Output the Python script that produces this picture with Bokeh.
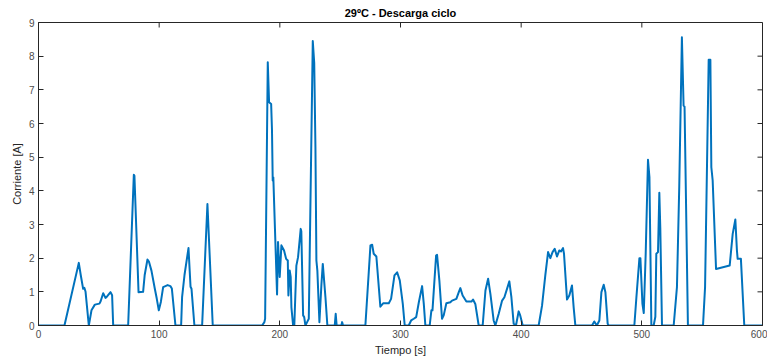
import math
from bokeh.plotting import figure
from bokeh.models import FixedTicker, Range1d
from bokeh.embed import file_html
from bokeh.resources import INLINE

# Time [s]
tiempo = [0, 21.5, 33.4, 35, 37, 38, 39, 41.7, 43.9, 46.7, 50.5, 51.5, 53.6, 55.5, 57, 59.7, 61, 61.9,
          74.3, 79, 79.5, 82.9, 86.7, 88, 90.3, 91.5, 93.6, 96.4, 98, 99.7, 101.4, 103.3, 105.2, 107,
          109.3, 110.5, 113.5, 118.2, 119, 121, 124.3, 126, 126.8, 129.2, 135.6, 140, 144.4, 185.3,
          187.2, 187.8, 190, 191.1, 192.8, 193.5, 194.1, 194.6, 197.7, 198.5, 199.9, 201.3, 203.5,
          205.2, 206.6, 207.1, 208.2, 209, 209.6, 211, 212, 213.7, 215.1, 217.3, 217.8, 219.3, 220.2,
          221.2, 222.6, 224, 227.3, 228.5, 229.5, 230.3, 231.1, 232.8, 234.5, 235.6, 237.8, 239.4,
          245.5, 246.3, 247.1, 251, 251.6, 252.4, 270.9, 275.1, 276.5, 277.8, 280, 283.3, 285.6,
          290.3, 292.2, 295, 297.2, 299.4, 301.9, 303.5, 306.8, 308.8, 311, 313, 315.2, 317.9, 319.3,
          320.6, 324.2, 325.6, 326.5, 329.5, 330.3, 332.2, 334.4, 335.8, 338, 341.3, 342.7, 346.3,
          348.3, 349.6, 351.5, 354.6, 358.8, 360.1, 362, 364.8, 368.1, 370.4, 372.6, 374.5, 377.2,
          378.6, 381.4, 384.2, 386.1, 390.2, 391.9, 393.8, 395.7, 397.9, 399.2, 401.3, 414.5, 417.3,
          420, 422.3, 424.2, 426, 427.8, 429.7, 431.6, 433, 434.7, 435.5, 438, 439.9, 442.1, 443.5,
          444.9, 458.7, 460.6, 462.7, 464.8, 466.5, 468.4, 469.8, 471.7, 472.5, 493.8, 495.5, 498,
          498.8, 500.5, 501.6, 503.2, 505.1, 506.3, 507.9, 509.8, 511.2, 512, 513.4, 514.5, 515.3,
          516.7, 526.4, 529.1, 531, 533.2, 534.6, 535.4, 538.2, 550.7, 552.4, 555.4, 556.8, 557.6,
          558.7, 561.5, 572.8, 575.3, 577.5, 578.8, 579.4, 582.1, 584.9, 600]

# Current [A]
corriente = [0, 0, 1.86, 1.5, 1.09, 1.12, 1.0, 0, 0.45, 0.62, 0.65, 0.72, 0.96, 0.82, 0.87, 0.99, 0.9, 0,
             0, 4.48, 4.45, 0.99, 1.0, 1.5, 1.96, 1.9, 1.63, 1.09, 0.8, 0.45, 0.7, 1.14, 1.17, 1.2,
             1.17, 1.1, 0, 0, 0.84, 1.5, 2.30, 1.15, 1.09, 0, 0, 3.61, 0, 0,
             0.1, 0.2, 7.82, 6.63, 6.58, 5.8, 4.31, 4.4, 0.92, 2.48, 1.44, 2.38, 2.23,
             1.98, 1.93, 0.89, 1.63, 1.44, 0.54, 0, 0, 1.78, 2.03, 2.87, 2.8, 0.3, 0.25,
             0, 0.1, 0.2, 8.45, 7.8, 5.3, 1.93, 1.63, 0.1, 1.24, 1.83, 0.84, 0,
             0, 0.35, 0, 0, 0.1, 0, 0, 2.38, 2.4, 2.13, 2.05, 0.56, 0.66,
             0.66, 0.79, 1.49, 1.58, 1.34, 0.64, 0, 0, 0.15, 0.2, 0.25, 0.69, 1.17, 0.64,
             0, 0, 0.45, 0.45, 2.08, 2.1, 1.34, 0.2, 0.3, 0.66, 0.69, 0.74, 0.79,
             0.99, 1.11, 0.89, 0.71, 0.71, 0.77, 0.64, 0, 0, 1.04, 1.39, 0.94, 0.15,
             0, 0.35, 0.74, 0.84, 1.31, 0.84, 0.05, 0, 0.42, 0.3, 0, 0, 0.59,
             1.49, 2.18, 2.0, 2.18, 2.28, 2.05, 2.23, 2.2, 2.3, 2.13, 0.77, 0.89, 1.19, 0.54,
             0, 0, 0.12, 0, 0.15, 0.99, 1.21, 0.99, 0.05, 0, 0, 0.84, 2.0,
             2.0, 0.64, 0.37, 2.13, 4.92, 4.41, 0, 0, 0.26, 2.13, 2.18, 3.94, 2.9,
             0, 0, 1.14, 4.11, 8.56, 6.53, 6.5, 0, 0, 1.14, 7.89, 7.89, 4.7,
             4.31, 1.68, 1.78, 2.72, 3.15, 2.23, 1.98, 1.98, 0, 0]

x_ticks = [0, 100, 200, 300, 400, 500, 600]
y_ticks = [0, 1, 2, 3, 4, 5, 6, 7, 8, 9]
x_lim = (0, 600)
y_lim = (0, 9)

FONT = "Liberation Sans"
AX = "#262626"

p = figure(width=767, height=358, output_backend="svg", toolbar_location=None,
           x_range=Range1d(*x_lim), y_range=Range1d(*y_lim),
           min_border_left=38, min_border_right=5, min_border_top=22, min_border_bottom=33,
           x_axis_label="Tiempo [s]", y_axis_label="Corriente [A]")

p.title.text = "29ºC - Descarga ciclo"
p.title.align = "center"
p.title.text_font = FONT
p.title.text_font_size = "11px"
p.title.text_font_style = "bold"
p.title.text_color = "#000000"
p.title.offset = 0
p.title.standoff = 7

p.grid.visible = False
p.outline_line_color = AX
p.outline_line_width = 1
p.background_fill_color = "white"
p.border_fill_color = "white"

p.line(tiempo, corriente, line_color="#0072BD", line_width=2, line_join="round")

for ax, ticks in ((p.xaxis[0], x_ticks), (p.yaxis[0], y_ticks)):
    ax.ticker = FixedTicker(ticks=ticks)
    ax.major_tick_in = 5
    ax.major_tick_out = 0
    ax.minor_tick_line_color = None
    ax.axis_line_color = AX
    ax.major_tick_line_color = AX
    ax.major_label_text_font = FONT
    ax.major_label_text_font_size = "10px"
    ax.major_label_text_color = "#4d4d4d"
    ax.axis_label_text_font = FONT
    ax.axis_label_text_font_size = "11px"
    ax.axis_label_text_font_style = "normal"
    ax.axis_label_text_color = AX
    ax.major_label_standoff = 4
    ax.axis_label_standoff = 3

# mirrored inward ticks on the top and right edges of the box
p.ray(x=x_ticks, y=[y_lim[1]] * len(x_ticks), length=5, length_units="screen",
      angle=-math.pi / 2, line_color=AX, line_width=1)
p.ray(x=[x_lim[1]] * len(y_ticks), y=y_ticks, length=5, length_units="screen",
      angle=math.pi, line_color=AX, line_width=1)

open("out.html", "w").write(file_html(p, INLINE))
